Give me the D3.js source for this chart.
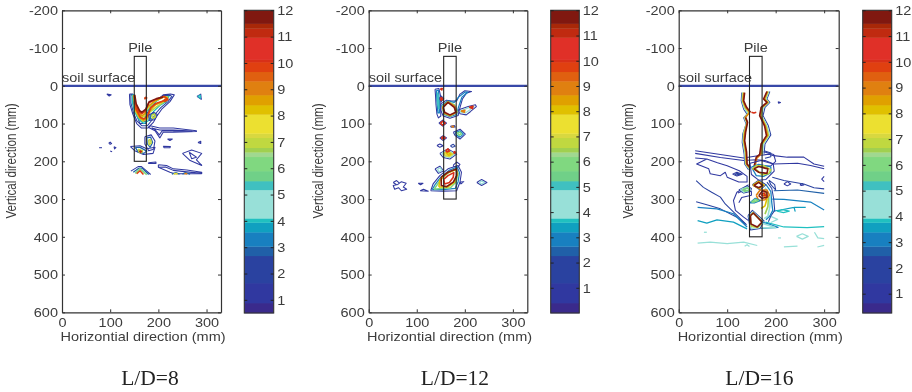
<!DOCTYPE html>
<html><head><meta charset="utf-8">
<script src="https://cdn.jsdelivr.net/npm/d3@7/dist/d3.min.js"></script>
<style>html,body{margin:0;background:#fff}svg{display:block;filter:blur(0.4px)}</style>
</head><body><svg id="c" width="912" height="392"></svg>
<script>
const captions = ["L/D=8","L/D=12","L/D=16"];
const xTicks = [0,100,200,300];
const yTicks = [-200,-100,0,100,200,300,400,500,600];
const barTicks = [1,2,3,4,5,6,7,8,9,10,11,12];
const barMins = [0.5,0,0.25];
const pileSpans = [[150,175,200],[156,182,300],[146,172,400]];
const bandBreaks = [0,.033,.099,.189,.22,.267,.299,.313,.407,.436,.469,.516,.531,.546,.579,.593,.656,.687,.72,.766,.797,.829,.837,.91,.94,.956,1];
const bandColors = ["#3a2a8c","#3038a0","#2a42a0","#2060a8","#1880c0","#10a0c0","#20c0c0","#98e0d8","#40c0c0","#70d088","#80d880","#a0d890","#a0d050","#c0d840","#d8d840","#ece030","#e0c000","#e0a000","#e08010","#e06010","#e04010","#d83018","#e03028","#c02a10","#a82808","#801810"];

// contour traces: [level, [[x mm, y mm], ...]]
const contoursLD8 = [
[1,[[140,22],[147,22],[149,48],[155,79],[162,100],[174,100],[179,75],[193,44],[210,24],[225,22],[233,24],[224,42],[207,62],[197,80],[190,96],[178,112],[165,112],[155,100],[147,75],[141,50],[140,22]]],
[2,[[143,24],[148,24],[151,50],[157,76],[165,95],[174,94],[177,72],[192,40],[210,26],[224,25],[228,28],[220,42],[205,58],[194,74],[186,92],[177,106],[166,106],[155,92],[148,70],[143,45],[143,24]]],
[4,[[146,24],[150,24],[153,52],[160,74],[166,88],[173,86],[175,70],[190,46],[208,30],[222,28],[216,42],[203,52],[190,68],[180,92],[170,100],[160,90],[151,70],[146,45],[146,24]]],
[7,[[148,25],[151,50],[158,72],[166,84],[172,80],[176,62],[192,42],[210,30],[219,30],[210,44],[196,56],[182,70],[177,88],[168,94],[160,84],[152,66],[148,25]]],
[8.5,[[149,25],[152,50],[159,70],[166,80],[172,74],[178,55],[193,40],[211,29],[219,32],[208,42],[194,50],[183,64],[177,84],[169,91],[161,84],[153,64],[149,25]]],
[10,[[150,24],[152,48],[159,68],[166,74],[172,68],[180,45],[195,36],[212,28],[220,36],[210,40],[196,46],[184,58],[178,78],[170,88],[163,84],[154,62],[150,24]]],
[11.5,[[151,24],[154,48],[161,66],[166,70],[174,62],[181,42],[196,34],[210,30]]],
[10,[[172,30],[176,32],[172,34],[172,30]]],
[10,[[212,36],[218,38],[214,42],[212,36]]],
[1,[[180,78],[190,70],[198,76],[192,90],[181,92],[180,78]]],
[3,[[183,78],[190,73],[195,78],[190,87],[183,88],[183,78]]],
[7,[[186,78],[192,75],[194,82],[188,86],[186,78]]],
[1,[[179,110],[183,106],[203,112],[231,112],[279,119],[279,121],[231,123],[210,123],[203,138],[193,119],[179,110]]],
[1.5,[[186,112],[203,117],[231,117],[270,120],[231,120],[208,119],[202,130],[193,116],[186,112]]],
[1,[[142,161],[162,159],[176,167],[193,163],[189,179],[169,182],[151,172],[142,161]]],
[3,[[152,163],[162,163],[176,173],[170,179],[158,175],[152,163]]],
[7,[[158,168],[167,172],[165,177],[160,175],[158,168]]],
[11,[[161,172],[165,174],[163,176],[161,172]]],
[1,[[172,135],[185,130],[193,146],[190,168],[180,172],[172,154],[172,135]]],
[3,[[176,138],[184,136],[188,150],[183,163],[177,154],[176,138]]],
[7,[[180,143],[184,143],[185,152],[181,156],[180,143]]],
[1,[[143,226],[158,214],[165,214],[184,235]]],
[3,[[148,229],[160,218],[166,218],[180,235]]],
[6,[[152,232],[162,220],[176,235]]],
[10,[[155,233],[162,225],[169,235]]],
[1,[[200,209],[217,211],[231,220],[259,223],[290,229],[290,232],[259,228],[231,224],[215,215],[200,216],[200,209]]],
[1,[[200,216],[224,229],[234,233],[269,233],[290,233]]],
[3,[[228,234],[236,230],[244,234]]],
[8,[[232,234],[236,232],[240,234]]],
[3,[[250,234],[256,230],[266,234]]],
[9,[[254,234],[257,232],[260,234]]],
[1,[[250,179],[269,170],[290,179],[279,196],[290,211],[266,198],[250,179]]],
[1,[[264,176],[279,189],[269,193],[264,176]]],
[1,[[93,22],[102,24],[98,27],[93,22]]],
[1,[[280,28],[288,22],[289,36],[280,28]]],
[4,[[282,28],[287,25],[287,33],[282,28]]],
[1,[[77,164],[83,164]]],
[1,[[97,152],[100,149],[103,153],[100,155],[97,152]]],
[1,[[108,161],[112,164],[109,167],[108,161]]],
[1,[[100,173],[104,175]]],
[1,[[210,160],[225,161],[224,164],[212,164],[210,160]]],
[1,[[219,141],[229,141],[224,145],[219,141]]],
[1,[[282,150],[288,147],[288,153],[282,150]]],
[1,[[179,204],[195,202],[195,206],[180,206],[179,204]]]
];
const contoursLD12 = [
[1,[[138,9],[146,7],[150,30],[150,60],[150,80],[145,85],[142,75],[140,50],[139,25],[138,9]]],
[3,[[141,12],[145,12],[147,40],[147,72],[144,72],[142,40],[141,12]]],
[5,[[143,18],[145,30],[146,60],[144,50],[143,18]]],
[10,[[149,8],[153,7],[152,11],[149,8]]],
[2,[[147,33],[151,27],[156,34],[151,42],[147,33]]],
[10,[[149,34],[151,31],[154,35],[151,39],[149,34]]],
[1,[[150,48],[162,38],[172,40],[183,40],[190,22],[200,13],[214,15],[203,20],[195,35],[190,57],[186,79],[169,86],[155,80],[150,65],[150,48]]],
[3,[[152,52],[164,40],[178,44],[187,30],[200,17],[206,17],[194,30],[187,56],[183,76],[169,82],[157,76],[152,52]]],
[6,[[153,55],[165,42],[178,50],[184,68],[170,80],[157,74],[153,55]]],
[9,[[154,56],[165,43],[179,54],[183,70],[169,79],[157,72],[154,56]]],
[11.5,[[155,57],[165,44],[178,57],[181,70],[169,77],[158,70],[155,57]]],
[1,[[186,64],[207,55],[222,50],[224,55],[212,68],[203,77],[190,74],[186,64]]],
[4,[[190,67],[208,58],[219,54],[210,64],[201,72],[191,70],[190,67]]],
[9,[[192,67],[200,65],[199,70],[192,67]]],
[10,[[209,57],[217,54],[216,60],[209,57]]],
[1,[[146,99],[154,91],[162,99],[154,107],[146,99]]],
[10,[[149,99],[154,94],[159,99],[154,104],[149,99]]],
[1,[[148,138],[155,132],[162,138],[155,145],[148,138]]],
[10,[[151,138],[155,135],[159,138],[155,141],[151,138]]],
[1,[[142,158],[148,154],[155,159],[148,163],[142,158]]],
[1,[[170,107],[178,105],[180,109],[172,110],[170,107]]],
[9,[[172,108],[176,107],[176,109],[172,108]]],
[2,[[170,159],[176,155],[180,160],[174,163],[170,159]]],
[1,[[176,123],[190,115],[201,128],[190,141],[180,132],[176,123]]],
[3,[[180,124],[190,119],[197,128],[190,136],[182,130],[180,124]]],
[6,[[184,125],[190,123],[193,128],[188,131],[184,125]]],
[1,[[148,179],[165,167],[183,181],[169,194],[155,190],[148,179]]],
[4,[[152,179],[165,171],[179,181],[169,190],[158,187],[152,179]]],
[7,[[156,179],[165,174],[175,181],[168,187],[160,185],[156,179]]],
[8,[[160,179],[165,177],[171,181],[167,184],[160,179]]],
[10,[[160,172],[165,167],[168,173],[163,175],[160,172]]],
[10,[[177,174],[181,176],[178,179],[177,174]]],
[1,[[176,210],[183,202],[190,208],[186,216],[177,214],[176,210]]],
[1,[[138,220],[148,213],[156,225],[145,232],[138,220]]],
[4,[[143,221],[149,217],[152,224],[146,228],[143,221]]],
[1,[[129,278],[134,260],[148,238],[165,220],[186,211],[193,229],[190,255],[183,278],[155,279],[129,278]]],
[3,[[132,275],[138,262],[150,242],[167,224],[184,215],[189,230],[186,254],[180,272],[155,275],[132,275]]],
[6,[[136,274],[142,263],[150,248],[164,232],[181,220],[186,232],[182,254],[170,270],[150,272],[136,274]]],
[8,[[146,268],[148,250],[162,232],[182,222],[184,236],[178,256],[164,268],[146,268]]],
[11.5,[[151,242],[165,229],[183,220],[183,238],[176,255],[162,267],[151,264],[151,242]]],
[10,[[156,248],[165,238],[177,230],[176,242],[168,256],[158,260],[156,248]]],
[1,[[190,255],[198,254],[192,260],[190,255]]],
[1,[[225,256],[235,248],[246,256],[235,264],[225,256]]],
[4,[[230,256],[235,252],[241,256],[235,260],[230,256]]],
[1,[[51,256],[58,251],[64,258],[60,262],[68,254],[78,258],[72,268],[79,274],[68,278],[62,270],[54,274],[51,264],[58,262],[51,256]]],
[1,[[103,258],[113,258],[108,262],[103,258]]],
[1,[[107,278],[114,274],[124,279],[107,278]]]
];
const contoursLD16 = [
[1,[[34,172],[86,182],[134,191],[160,186],[186,181],[196,185],[224,189],[258,189],[279,207],[300,213]]],
[1.3,[[34,179],[86,190],[134,198],[160,196],[178,198],[196,207],[245,205],[272,211],[300,220]]],
[1,[[34,191],[58,194],[37,207],[62,220],[65,233],[86,238],[96,229],[100,242],[124,255],[141,255],[141,240],[125,225],[100,212],[80,204],[58,194]]],
[1,[[111,234],[120,229],[131,234],[120,239],[111,234]]],
[1.5,[[115,234],[120,232],[127,234],[120,236],[115,234]]],
[1,[[217,260],[224,254],[231,260],[224,265],[217,260]]],
[1,[[250,262],[255,259],[258,263],[253,264],[250,262]]],
[1,[[300,240],[295,247],[300,254]]],
[1.5,[[193,242],[217,251],[258,260],[279,270],[300,273]]],
[1.8,[[36,251],[51,269],[68,282],[86,295],[96,313],[117,339],[138,366]]],
[2.2,[[36,307],[58,315],[86,326],[120,348],[140,368]]],
[3,[[39,322],[79,326],[113,339],[141,374]]],
[3.7,[[39,357],[58,364],[79,355],[113,361],[141,379]]],
[1.2,[[144,262],[134,271],[120,282],[113,304],[117,330],[134,348],[144,357]]],
[1.2,[[122,284],[136,276],[150,280],[150,290],[130,296],[124,310]]],
[3,[[193,300],[217,301],[272,308],[300,329]]],
[2.5,[[196,278],[245,276],[300,285]]],
[3.5,[[196,332],[210,329],[238,322],[240,332],[238,322],[262,322]]],
[3.8,[[203,332],[214,328],[228,332],[216,336],[203,332]]],
[3.8,[[179,361],[217,374],[265,376],[300,373]]],
[4,[[190,346],[204,354],[190,362]]],
[4.4,[[39,417],[65,414],[100,418],[134,414],[162,423]]],
[4.4,[[217,427],[245,425]]],
[4.4,[[286,427],[300,423]]],
[4.4,[[136,425],[141,421],[146,426]]],
[4.4,[[205,403],[211,403]]],
[4.4,[[52,388],[58,388]]],
[4.4,[[243,399],[255,392],[267,399],[255,406],[243,399]]],
[4.4,[[280,388],[287,403],[300,405]]],
[1.5,[[130,18],[129,40],[134,62],[141,75],[134,85],[139,101],[132,128],[131,150],[135,181],[136,207],[144,222]]],
[4,[[131.5,18],[130.5,40],[135.5,60],[142.5,73],[135.5,85],[140,99],[133.5,126],[132.5,148],[136.5,179],[137.5,207],[145,220]]],
[7,[[133,18],[132,40],[137,58],[145,71],[137,84],[141,98],[135,124],[134,146],[138,177],[139,207],[146,218]]],
[9,[[134.5,18],[133,40],[138.5,57],[146.5,70],[137.5,84],[141.5,97],[136.5,124],[135,146],[139,176],[140,207],[146.5,217]]],
[11.5,[[136,18],[134,40],[140,57],[148,70]]],
[11.5,[[138,84],[142,97],[138,123],[136,145],[140,176],[141,207],[147,216]]],
[1.5,[[188,15],[182,35],[188,44],[178,57],[174,79],[185,106],[190,130],[178,154],[176,180]]],
[4,[[186,15],[180,35],[186,44],[175,57],[171,79],[182,106],[187,130],[175,154],[173,180]]],
[7,[[184.5,15],[178,35],[184.5,44],[172.5,57],[169.5,79],[180,106],[185,131],[172.5,154],[171,182]]],
[9,[[183,15],[176.5,35],[183,44],[171,57],[168,79],[178.5,106],[183,131],[171,154],[169,182],[161,192],[157,216]]],
[11.5,[[182,15],[175,35],[182,44],[170,57],[167,79],[177,106],[181,132],[170,154],[167,182],[160,189],[155,216]]],
[10,[[150,70],[155,72],[160,70]]],
[1,[[205,42],[210,44],[206,46],[205,42]]],
[1,[[175,175],[196,182],[200,200],[190,212],[170,214]]],
[2,[[176,172],[190,178],[190,188],[178,192]]],
[1,[[147,205],[170,198],[195,207],[197,226],[180,248],[165,250],[150,235],[147,205]]],
[3,[[150,215],[165,208],[190,215],[190,230],[175,240],[160,238],[150,215]]],
[7,[[152,220],[160,222],[172,236],[186,232],[190,222],[175,212],[160,212],[152,220]]],
[11.5,[[155,220],[165,229],[182,232],[184,220],[165,214],[155,220]]],
[2,[[124,276],[141,265],[150,272],[148,280],[134,284],[124,276]]],
[4,[[127,275],[141,268],[148,276],[134,282],[127,275]]],
[6,[[132,275],[142,271],[145,276],[136,279],[132,275]]],
[2,[[152,262],[165,250],[180,262],[168,276],[152,262]]],
[8,[[153,263],[165,253],[176,263],[166,272],[153,263]]],
[11.5,[[155,264],[165,256],[173,264],[165,270],[155,264]]],
[1.5,[[186,250],[198,262],[200,276],[190,262],[186,250]]],
[2,[[182,255],[192,272],[196,300],[198,330],[190,345],[185,360]]],
[3,[[180,262],[190,280],[192,310],[194,330],[188,345],[180,355]]],
[5,[[178,270],[188,290],[188,320],[184,345],[176,352]]],
[6.5,[[176,276],[185,296],[184,320],[178,340]]],
[8,[[174,285],[182,300],[178,318],[170,325]]],
[9,[[160,290],[168,276],[182,276],[187,290],[178,302],[165,304],[160,290]]],
[11.5,[[165,291],[173,278],[182,282],[182,295],[172,298],[165,291]]],
[10,[[170,288],[176,284],[179,290],[174,292],[170,288]]],
[3,[[147,310],[158,298],[168,304],[156,310],[147,310]]],
[6,[[150,308],[158,301],[164,304],[155,308],[150,308]]],
[1.5,[[143,344],[152,330],[176,358],[168,378],[148,382],[143,344]]],
[4,[[145,346],[153,334],[174,360],[165,376],[150,378],[145,346]]],
[7,[[147,346],[153,336],[173,361],[163,375],[150,372],[147,346]]],
[11.5,[[148,344],[154,337],[172,361],[162,374],[149,366],[148,344]]],
[3,[[172,361],[190,368],[205,375],[170,378]]],
[5,[[172,364],[188,371],[200,376],[172,376]]]
];
const allContours = [contoursLD8, contoursLD12, contoursLD16];

const layout = [
 {l:62,r:221,bl:244.3,br:273.7,cap:150},
 {l:368.7,r:527.3,bl:550.7,br:579.3,cap:455},
 {l:678.7,r:838.7,bl:862.7,br:891.7,cap:759.5}
];
const plotTop=10.3,plotBottom=312.3,barBottom=313,stretch=1.17,fs=12.4,ink="#3c3c3c";
const svg=d3.select("#c");

function styleAxis(g){
  g.select(".domain").attr("stroke","#333").attr("stroke-width",1.2);
  g.selectAll(".tick line").attr("stroke","#333").attr("stroke-width",1);
}
function stretchLabels(g,dx,dy){
  g.selectAll(".tick text").attr("x",0).attr("y",0).attr("dy",null)
    .attr("fill",ink).attr("font-size",fs)
    .attr("font-family","'Liberation Sans',Arial,sans-serif")
    .attr("transform",`translate(${dx},${dy}) scale(${stretch},1)`);
}
function label(x,y,t,anchor,rot,size,sx){
  svg.append("text").attr("text-anchor",anchor||"start").attr("fill",ink).attr("font-size",size||fs)
    .attr("font-family","'Liberation Sans',Arial,sans-serif")
    .attr("transform",`translate(${x},${y}) scale(${sx||stretch},1) rotate(${rot||0})`).text(t);
}

layout.forEach((p,i)=>{
  const x=d3.scaleLinear().domain([0,330]).range([p.l,p.r]);
  const y=d3.scaleLinear().domain([-200,600]).range([plotTop,plotBottom]);
  const barMin=barMins[i];
  const bar=d3.scaleLinear().domain([barMin,12]).range([barBottom,plotTop]);
  const frac=d3.scaleLinear().domain([0,1]).range([barBottom,plotTop]);
  const colorOf=d3.scaleThreshold().domain(bandBreaks.slice(1,-1)).range(bandColors);
  const levelColor=v=>colorOf((v-barMin)/(12-barMin));
  const levelWidth=v=>v>=5?1.6:(v>=3?1.25:1.05);

  const line=d3.line().x(d=>x(d[0])).y(d=>y(d[1]));
  svg.append("g").selectAll("path").data(allContours[i]).join("path")
    .attr("d",d=>line(d[1])).attr("fill","none")
    .attr("stroke",d=>levelColor(d[0])).attr("stroke-width",d=>levelWidth(d[0])).attr("stroke-linejoin","round");

  svg.append("line").attr("x1",x(0)).attr("x2",x(330)).attr("y1",y(0)).attr("y2",y(0))
    .attr("stroke","#3848a8").attr("stroke-width",2.2);
  const ps=pileSpans[i];
  svg.append("rect").attr("x",x(ps[0])).attr("width",x(ps[1])-x(ps[0]))
    .attr("y",y(-78)).attr("height",y(ps[2])-y(-78))
    .attr("fill","none").attr("stroke","#222").attr("stroke-width",1.1);

  const fmt=d=>String(d);
  const gx=svg.append("g").attr("transform",`translate(0,${plotBottom})`)
    .call(d3.axisBottom(x).tickValues(xTicks).tickSizeInner(-3).tickSizeOuter(0).tickFormat(fmt));
  styleAxis(gx); stretchLabels(gx,0,14.5);
  const gt=svg.append("g").attr("transform",`translate(0,${plotTop})`)
    .call(d3.axisTop(x).tickValues(xTicks).tickSizeInner(-3).tickSizeOuter(0).tickFormat(""));
  styleAxis(gt);
  const gy=svg.append("g").attr("transform",`translate(${p.l},0)`)
    .call(d3.axisLeft(y).tickValues(yTicks).tickSizeInner(-3).tickSizeOuter(0).tickFormat(fmt));
  styleAxis(gy); stretchLabels(gy,-4,4.3);
  const gr=svg.append("g").attr("transform",`translate(${p.r},0)`)
    .call(d3.axisRight(y).tickValues(yTicks).tickSizeInner(-3).tickSizeOuter(0).tickFormat(""));
  styleAxis(gr);

  svg.append("g").selectAll("rect").data(bandColors).join("rect")
    .attr("x",p.bl).attr("width",p.br-p.bl)
    .attr("y",(d,k)=>frac(bandBreaks[k+1]))
    .attr("height",(d,k)=>frac(bandBreaks[k])-frac(bandBreaks[k+1])+0.3)
    .attr("fill",d=>d);
  svg.append("rect").attr("x",p.bl).attr("y",plotTop).attr("width",p.br-p.bl).attr("height",barBottom-plotTop)
    .attr("fill","none").attr("stroke","#333").attr("stroke-width",1.1);
  const gb=svg.append("g").attr("transform",`translate(${p.br},0)`)
    .call(d3.axisRight(bar).tickValues(barTicks).tickSizeInner(-3).tickSizeOuter(0).tickFormat(fmt));
  gb.select(".domain").remove();
  gb.selectAll(".tick line").attr("stroke","#222");
  stretchLabels(gb,3.5,4.3);
  const gb2=svg.append("g").attr("transform",`translate(${p.bl},0)`)
    .call(d3.axisLeft(bar).tickValues(barTicks).tickSizeInner(-3).tickSizeOuter(0).tickFormat(""));
  gb2.select(".domain").remove();
  gb2.selectAll(".tick line").attr("stroke","#222");

  label(p.l,81.5,"soil surface");
  label((x(ps[0])+x(ps[1]))/2,51.5,"Pile","middle");
  label((p.l+p.r)/2+1.5,341,"Horizontial direction (mm)","middle");
  label(p.l-46,161,"Vertical direction (mm)","middle",-90,11.6,1.3);
  svg.append("text").attr("x",p.cap).attr("y",385).attr("text-anchor","middle")
    .attr("font-family","'Liberation Serif','Times New Roman',serif").attr("font-size",21.5)
    .attr("fill","#222").text(captions[i]);
});
</script></body></html>
